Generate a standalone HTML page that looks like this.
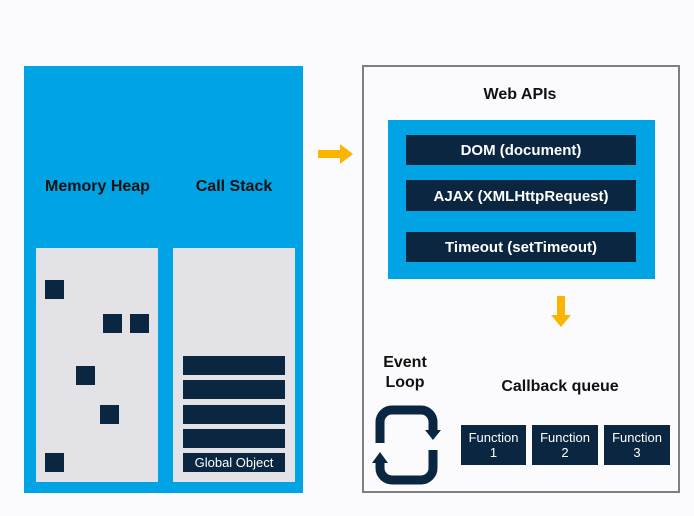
<!DOCTYPE html>
<html><head><style>
body{margin:0;width:694px;height:516px;background:#fbfbfd;position:relative;overflow:hidden;font-family:"Liberation Sans",sans-serif;}
div{position:absolute;box-sizing:border-box;}
.d{background:#0b2640;}
.t{font-weight:bold;color:#111;font-size:16px;text-align:center;}
.w{color:#fff;font-weight:bold;text-align:center;}
</style></head><body>
<div style="left:24px;top:66px;width:279px;height:427px;background:#00a3e4;"></div>
<div class="t" style="left:30px;top:178px;width:135px;">Memory Heap</div>
<div class="t" style="left:170px;top:178px;width:128px;">Call Stack</div>
<div style="left:36px;top:248px;width:122px;height:234px;background:#e3e2e6;"></div>
<div style="left:173px;top:248px;width:122px;height:234px;background:#e3e2e6;"></div>
<div class="d" style="left:45px;top:280px;width:19px;height:19px;"></div>
<div class="d" style="left:103px;top:314px;width:19px;height:19px;"></div>
<div class="d" style="left:130px;top:314px;width:19px;height:19px;"></div>
<div class="d" style="left:76px;top:366px;width:19px;height:19px;"></div>
<div class="d" style="left:100px;top:405px;width:19px;height:19px;"></div>
<div class="d" style="left:45px;top:453px;width:19px;height:19px;"></div>
<div class="d" style="left:183px;top:356px;width:102px;height:19px;"></div>
<div class="d" style="left:183px;top:380px;width:102px;height:19px;"></div>
<div class="d" style="left:183px;top:405px;width:102px;height:19px;"></div>
<div class="d" style="left:183px;top:429px;width:102px;height:19px;"></div>
<div class="d w" style="left:183px;top:453px;width:102px;height:19px;font-size:13px;font-weight:normal;line-height:19px;">Global Object</div>
<svg style="position:absolute;left:0;top:0" width="694" height="516">
<polygon points="318,150 340,150 340,144 353,154 340,164 340,158 318,158" fill="#fbb400"/>
<polygon points="557,296 565,296 565,315 571,315 561,327 551,315 557,315" fill="#fbb400"/>
<g fill="none" stroke="#0b2640" stroke-width="9">
<path d="M380,443 V422 a12,12 0 0 1 12,-12 H421 a12,12 0 0 1 12,12 V431"/>
<path d="M433,450 V468 a12,12 0 0 1 -12,12 H392 a12,12 0 0 1 -12,-12 V462"/>
</g>
<polygon points="425,430 441,430 433,440" fill="#0b2640"/>
<polygon points="372,463 388,463 380,452" fill="#0b2640"/>
</svg>
<div style="left:362px;top:65px;width:318px;height:428px;border:2px solid #7d7f85;"></div>
<div class="t" style="left:470px;top:86px;width:100px;">Web APIs</div>
<div style="left:388px;top:120px;width:267px;height:159px;background:#00a3e4;"></div>
<div class="d w" style="left:406px;top:135px;width:230px;height:30px;line-height:32px;font-size:15px;">DOM (document)</div>
<div class="d w" style="left:406px;top:180px;width:230px;height:31px;line-height:33px;font-size:15px;">AJAX (XMLHttpRequest)</div>
<div class="d w" style="left:406px;top:232px;width:230px;height:30px;line-height:32px;font-size:15px;">Timeout (setTimeout)</div>
<div class="t" style="left:365px;top:353px;width:80px;line-height:20px;">Event<br>Loop</div>
<div class="t" style="left:490px;top:378px;width:140px;">Callback queue</div>
<div class="d w" style="left:461px;top:425px;width:65px;height:40px;font-size:13px;font-weight:normal;line-height:15px;padding-top:5px;">Function<br>1</div>
<div class="d w" style="left:532px;top:425px;width:66px;height:40px;font-size:13px;font-weight:normal;line-height:15px;padding-top:5px;">Function<br>2</div>
<div class="d w" style="left:604px;top:425px;width:66px;height:40px;font-size:13px;font-weight:normal;line-height:15px;padding-top:5px;">Function<br>3</div>
</body></html>
